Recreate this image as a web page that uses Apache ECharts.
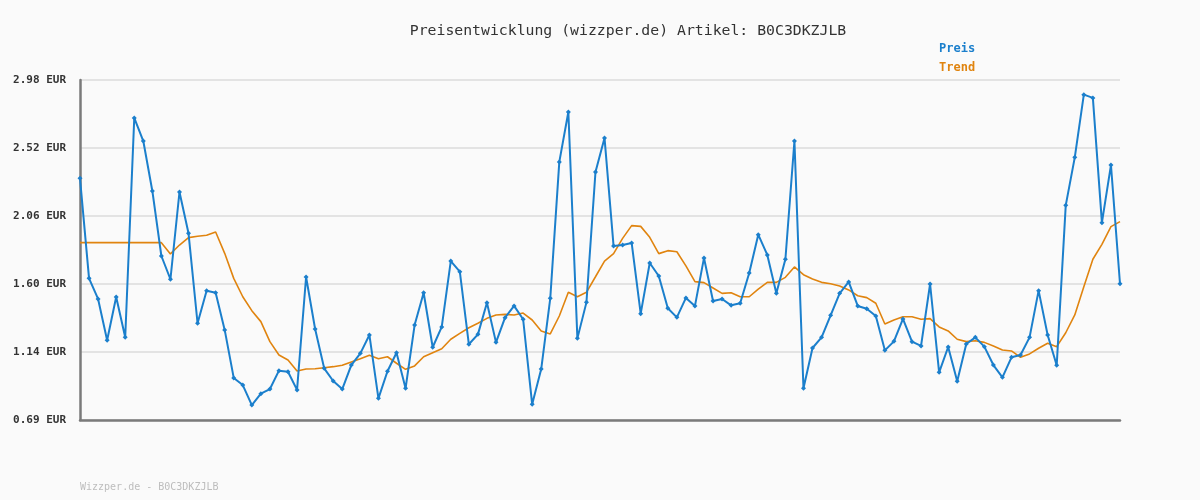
<!DOCTYPE html>
<html>
<head>
<meta charset="utf-8">
<script src="https://cdn.jsdelivr.net/npm/echarts@6/dist/echarts.min.js"></script>
<style>
html,body{margin:0;padding:0;background:#fafafa;}
#c{width:1200px;height:500px;}
</style>
</head>
<body>
<div id="c"></div>
<script>
const categories = Array.from({length:116}, (_, i) => String(i + 1));
const preis = [2.316,1.641,1.502,1.223,1.515,1.243,2.724,2.568,2.231,1.792,
1.635,2.224,1.945,1.338,1.558,1.544,1.293,0.969,0.921,0.786,
0.863,0.894,1.018,1.011,0.888,1.650,1.299,1.034,0.948,0.894,
1.056,1.135,1.259,0.831,1.014,1.139,0.899,1.326,1.544,1.176,
1.313,1.758,1.686,1.196,1.263,1.477,1.209,1.376,1.455,1.365,
0.791,1.029,1.506,2.427,2.764,1.236,1.479,2.359,2.589,1.860,
1.866,1.880,1.403,1.745,1.657,1.439,1.378,1.509,1.455,1.779,
1.488,1.502,1.459,1.473,1.677,1.936,1.799,1.540,1.770,2.568,
0.899,1.171,1.243,1.392,1.540,1.617,1.455,1.436,1.387,1.155,
1.216,1.367,1.214,1.185,1.603,1.007,1.178,0.946,1.198,1.243,
1.180,1.056,0.973,1.108,1.124,1.243,1.558,1.259,1.054,2.134,
2.458,2.881,2.859,2.017,2.406,1.605];
const trend = [1.882,1.882,1.882,1.882,1.882,1.882,1.882,1.882,1.882,1.882,
1.806,1.866,1.916,1.925,1.932,1.954,1.810,1.641,1.517,1.423,
1.349,1.214,1.124,1.090,1.016,1.029,1.031,1.038,1.045,1.054,
1.077,1.099,1.122,1.099,1.112,1.068,1.027,1.050,1.112,1.139,
1.166,1.230,1.270,1.308,1.338,1.371,1.394,1.398,1.394,1.407,
1.360,1.286,1.266,1.387,1.547,1.517,1.547,1.652,1.758,1.808,
1.911,1.997,1.992,1.918,1.808,1.828,1.821,1.725,1.619,1.612,
1.576,1.540,1.544,1.517,1.517,1.568,1.614,1.614,1.648,1.718,
1.666,1.637,1.614,1.605,1.590,1.563,1.524,1.511,1.473,1.333,
1.360,1.382,1.382,1.365,1.369,1.313,1.286,1.230,1.214,1.220,
1.209,1.185,1.158,1.151,1.108,1.131,1.169,1.203,1.180,1.274,
1.394,1.585,1.770,1.871,1.990,2.024];
const tickLabels = ['0.69 EUR','1.14 EUR','1.60 EUR','2.06 EUR','2.52 EUR','2.98 EUR'];
const yMin = 0.685, yMax = 2.98;

const mono = 'DejaVu Sans Mono';
const chart = echarts.init(document.getElementById('c'), null, {renderer:'canvas'});
chart.setOption({
  backgroundColor:'#fafafa',
  animation:false,
  title:{
    text:'Preisentwicklung (wizzper.de) Artikel: B0C3DKZJLB',
    left:623, top:19, textAlign:'center',
    textStyle:{fontFamily:mono, fontSize:14.8, fontWeight:'normal', color:'#333'}
  },
  legend:{
    orient:'vertical', left:929, top:38, itemGap:7, itemWidth:0, itemHeight:0,
    selectedMode:false,
    data:[
      {name:'Preis', icon:'rect', textStyle:{color:'#1b7fcc'}},
      {name:'Trend', icon:'rect', textStyle:{color:'#e0840f'}}
    ],
    textStyle:{fontFamily:mono, fontSize:12, fontWeight:'bold'}
  },
  graphic:[{
    type:'text', left:80, top:482,
    style:{text:'Wizzper.de - B0C3DKZJLB', font:'10px "DejaVu Sans Mono"', fill:'#bdbdbd'}
  }],
  grid:{left:80, right:80, top:80, bottom:80, containLabel:false},
  xAxis:{
    type:'category', data:categories, boundaryGap:false,
    axisLine:{show:true, lineStyle:{color:'#7a7a7a', width:2.5}},
    axisTick:{show:false}, axisLabel:{show:false}, splitLine:{show:false}
  },
  yAxis:[
    {type:'value', min:yMin, max:yMax, show:false, splitLine:{show:false}},
    {type:'value', min:0, max:5, interval:1, position:'left',
     axisLine:{show:true, lineStyle:{color:'#7a7a7a', width:2.5}},
     axisTick:{show:false},
     axisLabel:{margin:14, formatter:(v)=>tickLabels[Math.round(v)], fontFamily:mono, fontSize:11, fontWeight:'bold', color:'#333'},
     splitLine:{show:true, lineStyle:{color:'#e3e3e3', width:2}}
    }
  ],
  series:[
    {name:'Preis', type:'line', data:preis, yAxisIndex:0, z:3,
     symbol:'diamond', symbolSize:5, showAllSymbol:true,
     itemStyle:{color:'#1b7fcc'}, lineStyle:{color:'#1b7fcc', width:2}},
    {name:'Trend', type:'line', data:trend, yAxisIndex:0, z:2,
     symbol:'none', itemStyle:{color:'#e0840f'}, lineStyle:{color:'#e0840f', width:1.6}}
  ]
});
</script>
</body>
</html>
